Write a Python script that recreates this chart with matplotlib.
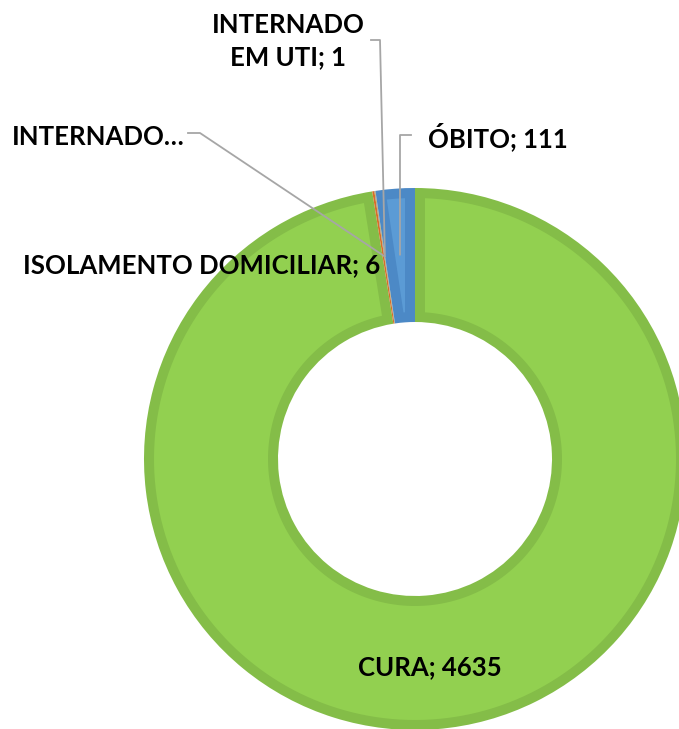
import numpy as np
import matplotlib
matplotlib.use("Agg")
import matplotlib.pyplot as plt
from matplotlib.patches import Polygon

categories = ["CURA", "ISOLAMENTO DOMICILIAR", "INTERNADO", "INTERNADO EM UTI", "ÓBITO"]
values = [4635, 6, 2, 1, 111]
labels = ["CURA; 4635", "ISOLAMENTO DOMICILIAR; 6", "INTERNADO…", "INTERNADO\nEM UTI; 1", "ÓBITO; 111"]

fill_colors = ["#92D050", "#ED7D31", "#A5A5A5", "#FFC000", "#5B9BD5"]
edge_colors = ["#84BD48", "#D86E28", "#959595", "#E6AD00", "#4C89C6"]

W, H = 679, 729
fig = plt.figure(figsize=(W / 100, H / 100), dpi=100)
ax = fig.add_axes([0, 0, 1, 1])

cx, cy = 415, H - 459
R = 271
ring = 134
r_in = R - ring
d = 10

wedges, _ = ax.pie(values, colors=edge_colors, startangle=90, counterclock=False,
                   center=(cx, cy), radius=R, frame=True,
                   wedgeprops=dict(width=ring, linewidth=0))
ax.set_xlim(0, W)
ax.set_ylim(0, H)
ax.set_aspect("equal")
ax.axis("off")

# inner lighter area (bevel look)
for w, fc in zip(wedges, fill_colors):
    t1, t2 = w.theta1, w.theta2
    ro, ri = R - d, r_in + d
    ao = np.degrees(np.arcsin(d / ro))
    ai = np.degrees(np.arcsin(d / ri))
    if (t2 - t1) <= 2 * ao:
        continue
    outer = np.linspace(t1 + ao, t2 - ao, 200)
    pts = [(cx + ro * np.cos(np.radians(a)), cy + ro * np.sin(np.radians(a))) for a in outer]
    if (t2 - t1) > 2 * ai:
        inner = np.linspace(t2 - ai, t1 + ai, 200)
        pts += [(cx + ri * np.cos(np.radians(a)), cy + ri * np.sin(np.radians(a))) for a in inner]
    else:
        mid = np.radians((t1 + t2) / 2)
        span = np.radians((t2 - t1) / 2)
        rr = d / np.sin(span)
        pts.append((cx + rr * np.cos(mid), cy + rr * np.sin(mid)))
    ax.add_patch(Polygon(pts, closed=True, facecolor=fc, edgecolor="none", zorder=3))

def anchor(i, r=205):
    w = wedges[i]
    a = np.radians((w.theta1 + w.theta2) / 2)
    return cx + r * np.cos(a), cy + r * np.sin(a)

font = dict(family=["Lato", "DejaVu Sans"], fontweight="bold", fontsize=18.5, color="black", zorder=6)
lc = "#A6A6A6"

# CURA
ax.text(430, H - 667, labels[0], ha="center", va="center", **font)
# ISOLAMENTO
ax.text(380, H - 265, labels[1], ha="right", va="center", **font)
# INTERNADO…
ax.text(185, H - 137, labels[2], ha="right", va="center", **font)
x, y = anchor(2)
ax.plot([188, 200, x], [H - 133, H - 133, y], color=lc, lw=1.3, zorder=5)
# INTERNADO EM UTI
ax.text(288, H - 41, labels[3], ha="center", va="center", linespacing=1.4, **font)
x, y = anchor(3)
ax.plot([371, 380, x], [H - 40, H - 40, y], color=lc, lw=1.3, zorder=5)
# ÓBITO
ax.text(428, H - 137, labels[4], ha="left", va="center", **font)
x, y = anchor(4)
ax.plot([411, 400, x], [H - 135, H - 135, y], color=lc, lw=1.3, zorder=5)

fig.savefig("out.png", dpi=100)
